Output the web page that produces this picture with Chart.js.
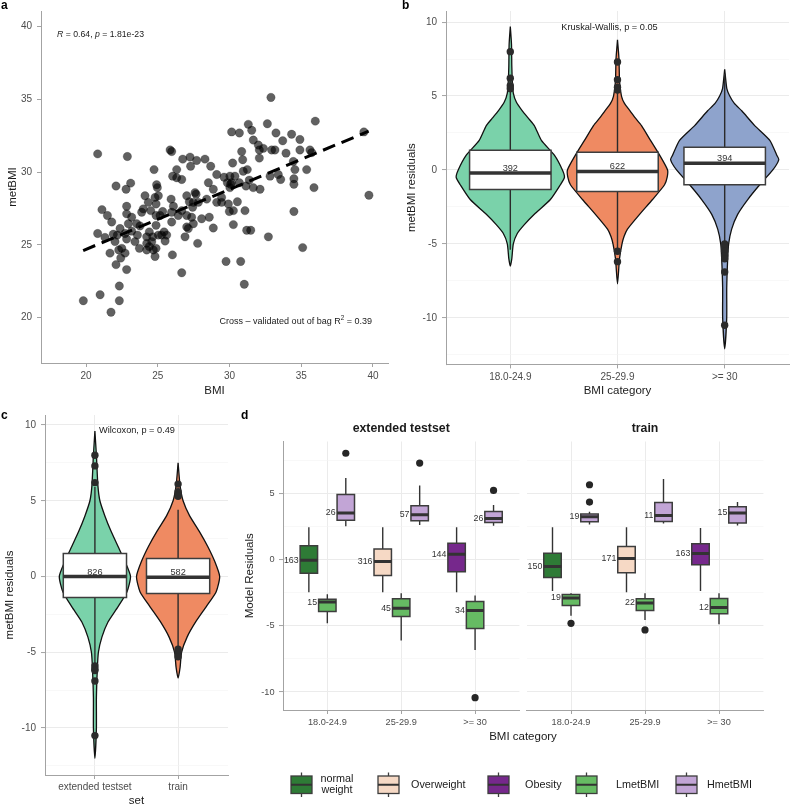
<!DOCTYPE html>
<html><head><meta charset="utf-8">
<script src="https://cdn.jsdelivr.net/npm/chart.js@4.4.1/dist/chart.umd.min.js"></script>
<style>
html,body{margin:0;padding:0;background:#fff;overflow:hidden;width:790px;height:806px;}
canvas{position:absolute;}
</style></head><body>
<canvas id="ca" width="395" height="400" style="left:0;top:0"></canvas>
<canvas id="cb" width="400" height="400" style="left:390px;top:0"></canvas>
<canvas id="cc" width="235" height="410" style="left:0;top:400px"></canvas>
<canvas id="cd1" width="550" height="406" style="left:240px;top:400px"></canvas>
<canvas id="cd2" width="270" height="406" style="left:520px;top:400px"></canvas>
<script>
// ================= DATA =================
// Panel a: scatter BMI vs metBMI
const bmi = [
19.81,20.81,20.81,20.98,21.11,21.32,21.49,21.67,21.74,21.79,
21.90,22.09,22.09,22.02,22.32,22.32,22.37,22.28,22.42,22.72,
22.79,22.88,22.83,22.83,22.83,22.95,22.83,23.11,23.18,22.72,
23.41,23.53,23.58,23.72,23.76,23.99,24.11,24.23,24.23,24.34,
24.41,24.51,24.58,24.69,24.74,24.81,24.88,24.88,24.88,24.88,
24.81,24.92,24.97,25.16,25.27,25.34,25.44,25.51,25.86,25.93,
25.97,25.97,25.97,26.02,26.04,26.32,26.32,26.43,26.67,26.67,
26.74,26.90,27.02,27.13,27.20,27.25,27.29,27.36,27.43,27.48,
27.60,27.71,27.78,28.06,28.29,28.53,28.59,28.69,28.87,28.87,
29.11,29.45,29.62,29.76,29.85,29.92,29.99,30.03,30.08,30.15,
30.22,30.27,30.38,30.55,30.69,30.78,30.85,30.92,30.96,31.03,
31.08,31.15,31.20,31.24,31.31,31.38,31.48,31.55,31.66,32.01,
32.08,32.08,32.13,32.36,32.64,32.83,32.71,32.89,32.94,33.17,
33.24,33.40,33.57,33.71,33.94,34.33,34.45,34.49,34.49,34.49,
34.56,34.91,34.91,35.10,35.38,35.61,35.73,35.89,35.98,39.37,
39.72,22.18,22.49,23.18,23.88,24.41,24.65,25.04,25.62,26.09,
26.67,27.02,27.48,27.83,28.41,29.45,30.03,30.15,30.27,31.66,
30.69,27.02,27.67,29.11,25.04,24.23];
const metBMI = [
21.17,31.26,25.79,21.58,27.43,25.52,27.03,24.44,20.38,26.58,
25.74,29.05,23.65,25.23,22.18,21.17,26.13,24.66,24.10,24.44,
28.83,31.08,27.66,27.14,23.31,26.46,25.41,29.25,25.95,25.79,
25.23,26.46,25.68,24.77,26.31,27.48,28.38,25.56,24.66,27.93,
25.90,27.36,25.23,24.66,30.18,28.27,27.82,27.03,26.35,24.77,
24.21,29.14,28.94,27.03,25.68,27.30,25.90,25.27,31.53,28.15,
26.58,27.25,31.42,24.32,29.73,30.18,29.62,27.03,29.50,23.09,
30.90,25.56,26.24,26.13,27.97,31.04,30.41,26.91,27.59,26.46,
28.60,30.81,25.11,26.80,30.90,29.28,26.91,30.41,26.17,28.83,
27.93,28.27,29.66,23.87,29.28,27.82,27.30,29.73,29.17,32.77,
30.63,26.40,29.73,27.97,32.70,23.87,31.42,30.86,30.07,22.30,
27.36,29.05,26.01,30.18,33.29,29.46,26.01,32.88,32.21,31.87,
31.53,30.97,28.83,31.64,33.33,29.73,25.56,35.14,31.53,31.53,
32.70,29.84,29.50,32.16,31.31,32.61,30.74,27.30,29.17,29.55,
30.18,32.25,31.53,24.82,30.18,31.53,31.35,28.94,33.51,32.77,
28.42,25.68,24.77,26.91,27.25,24.89,25.56,25.68,25.68,27.66,
27.36,27.03,27.93,27.93,28.15,27.93,28.94,29.28,27.36,28.94,
29.28,28.38,28.49,29.84,28.38,25.11];
const fitBMI = [19.8, 39.7];
const fitMet = [24.62, 32.82];
const aTicksX = [20, 25, 30, 35, 40];
const aTicksY = [20, 25, 30, 35, 40];

// Panel b: residuals by BMI category
const bmiCats = ['18.0-24.9', '25-29.9', '>= 30'];
const bColors = ['#7ad2aa', '#ef8a62', '#8ea3cc'];
const bViolinY = [
  [9.7, 8.5, 7, 6, 5.2, 4.6, 4, 3.5, 3, 2, 1, 0, -0.5, -1, -2, -3, -3.7, -4.3, -5, -6, -6.5],
  [8.8, 7.5, 6, 5, 4.5, 4, 3.5, 3, 2, 1, 0, -0.5, -1, -2, -3, -4, -4.5, -5, -6, -7.7],
  [6.8, 5.5, 5, 4.5, 4, 3, 2, 1, 0.7, 0, -1, -2, -3, -4, -5, -6, -8, -10, -12.1]];
const bViolinW = [
  [0, .011, .014, .019, .028, .056, .112, .168, .224, .29, .411, .486, .505, .467, .374, .224, .131, .065, .028, .014, 0],
  [0, .014, .019, .037, .065, .117, .168, .224, .308, .393, .467, .463, .439, .327, .206, .093, .061, .042, .019, 0],
  [0, .02, .047, .09, .159, .280, .421, .486, .505, .449, .327, .215, .121, .065, .037, .028, .019, .019, 0]];
const bQ1 = [-1.33, -1.45, -1.0];
const bMed = [-0.2, -0.1, 0.45];
const bQ3 = [1.33, 1.2, 1.53];
const bLo = [-5.4, -5.4, -4.8];
const bHi = [5.5, 5.3, 6.5];
const bN = [392, 622, 394];
const bOut = [[8.0, 6.2, 5.7, 5.5], [7.3, 6.1, 5.6, 5.4, -5.5, -6.2], [-5.0, -5.2, -5.5, -5.8, -6.0, -6.9, -10.5]];
const resTicks = [10, 7.5, 5, 2.5, 0, -2.5, -5, -7.5, -10, -12.5];

// Panel c: residuals by set
const sets = ['extended testset', 'train'];
const cColors = ['#7ad2aa', '#ef8a62'];
const cViolinY = [
  [9.6, 8, 6, 5, 4, 3, 2, 1, 0, -1, -2, -3, -4, -5, -6, -8, -10, -12],
  [7.5, 6, 5, 4, 3, 2, 1, 0, -1, -2, -3, -4, -5, -6, -6.7]];
const cViolinW = [
  [0, .018, .036, .06, .12, .193, .277, .361, .428, .386, .277, .157, .084, .042, .03, .018, .018, 0],
  [0, .024, .06, .139, .253, .355, .44, .5, .458, .337, .211, .108, .042, .024, 0]];
const cQ1 = [-1.39, -1.12];
const cMed = [0, -0.05];
const cQ3 = [1.52, 1.19];
const cLo = [-5.8, -4.7];
const cHi = [5.9, 4.4];
const cN = [826, 582];
const cOut = [[8.0, 7.3, 6.2, -5.9, -6.1, -6.2, -6.9, -10.5], [6.1, 5.6, 5.4, 5.3, -4.8, -5.0, -5.3]];

// Panel d: model residuals per facet / category / group
const dFacets = ['extended testset', 'train'];
const dGroups = ['normal weight', 'Overweight', 'Obesity', 'LmetBMI', 'HmetBMI'];
const dColors = ['#2e7b36', '#f6d9c5', '#76288c', '#66bb63', '#c2a5d6'];
const dFacet = ['extended testset','extended testset','extended testset','extended testset','extended testset','extended testset','extended testset','extended testset','extended testset',
                'train','train','train','train','train','train','train','train','train'];
const dCat = ['18.0-24.9','18.0-24.9','18.0-24.9','25-29.9','25-29.9','25-29.9','>= 30','>= 30','>= 30',
              '18.0-24.9','18.0-24.9','18.0-24.9','25-29.9','25-29.9','25-29.9','>= 30','>= 30','>= 30'];
const dGroup = ['normal weight','LmetBMI','HmetBMI','Overweight','LmetBMI','HmetBMI','Obesity','LmetBMI','HmetBMI',
                'normal weight','LmetBMI','HmetBMI','Overweight','LmetBMI','HmetBMI','Obesity','LmetBMI','HmetBMI'];
const dLo  = [-2.45,-4.8, 2.53,-2.45,-6.1, 2.63,-2.45,-6.82,2.58, -2.35,-4.24,2.68,-2.45,-4.55,2.75,-2.35,-4.87,2.6];
const dQ1  = [-1.01,-3.91,3.0, -1.19,-4.29,2.95,-0.91,-5.2, 2.83, -1.34,-3.46,2.88,-0.98,-3.84,2.9, -0.38,-4.07,2.78];
const dMed = [-0.03,-3.2, 3.54,-0.13,-3.66,3.41, 0.43,-3.84,3.13, -0.5, -2.88,3.26, 0.1, -3.26,3.36, 0.48,-3.61,3.54];
const dQ3  = [1.06,-2.98, 4.95, 0.81,-2.95,4.09, 1.26,-3.16,3.66,  0.5, -2.63,3.46, 1.01,-2.95,4.34, 1.21,-2.93,4.02];
const dHi  = [2.47,-2.6,  6.19, 2.47,-2.53,5.63, 2.47,-2.7, 4.14,  2.47,-2.53,3.64, 2.47,-2.53,6.11, 2.4, -2.53,4.37];
const dN   = [163, 15, 26, 316, 45, 57, 144, 34, 26, 150, 19, 19, 171, 22, 11, 163, 12, 15];
const dOut = [[],[],[8.06], [],[],[7.32], [],[-10.43],[5.25], [],[-4.8],[4.37,5.68], [],[-5.3],[], [],[],[]];
const dTicks = [7.5, 5, 2.5, 0, -2.5, -5, -7.5, -10];

// ================= STYLE / HELPERS =================
const FONT = "'Liberation Sans', Arial, Helvetica, sans-serif";
const TICKC = '#4d4d4d', AXISC = '#a3a3a3', TITLEC = '#1a1a1a';
const GRIDMAJ = '#ebebeb', GRIDMIN = '#f4f4f4';
Chart.defaults.font.family = FONT;
const isMajor5 = v => Math.abs(v / 5 - Math.round(v / 5)) < 1e-6;

function axis(o) {
  return {
    type: 'linear', position: o.pos, min: o.min, max: o.max,
    afterBuildTicks: s => { s.ticks = o.ticks.map(v => ({ value: v })); },
    afterFit: s => { if (o.pos === 'left') s.width = o.size; else s.height = o.size; },
    ticks: { display: o.showLabels !== false, autoSkip: false, maxRotation: 0, minRotation: 0,
      color: TICKC, font: { size: o.fs || 10, family: FONT }, padding: o.pad, callback: o.label },
    grid: { drawOnChartArea: true, drawTicks: o.drawTicks !== false, tickLength: 4,
      color: o.gridColor, lineWidth: o.gridWidth, tickColor: o.tickColor, tickWidth: 1 },
    border: { display: o.border !== false, color: AXISC, width: 1 },
    title: o.title ? { display: true, text: o.title, color: TITLEC, font: { size: 11.5, family: FONT }, padding: o.titlePad } : { display: false }
  };
}
function makeChart(id, W, area, scales, datasets, plugins) {
  return new Chart(document.getElementById(id), {
    type: 'scatter',
    data: { datasets },
    options: {
      responsive: false, animation: false, events: [],
      layout: { autoPadding: false, padding: { left: area.padL || 0, top: area.t, right: W - area.r, bottom: 0 } },
      plugins: { legend: { display: false }, tooltip: { enabled: false }, title: { display: false } },
      scales
    },
    plugins
  });
}
function seg(x1, y1, x2, y2, color, w, order) {
  return { type: 'line', data: [{ x: x1, y: y1 }, { x: x2, y: y2 }], borderColor: color, borderWidth: w,
    pointRadius: 0, pointHoverRadius: 0, fill: false, tension: 0, order };
}
function rectDs(c, h, q1, q3, fillC, order) {
  return { type: 'line', data: [{ x: c - h, y: q1 }, { x: c + h, y: q1 }, { x: c + h, y: q3 }, { x: c - h, y: q3 }, { x: c - h, y: q1 }],
    fill: 'shape', backgroundColor: fillC, borderColor: '#3d3d3d', borderWidth: 1.5, borderCapStyle: 'square',
    pointRadius: 0, pointHoverRadius: 0, tension: 0, order };
}
function violinDs(c, ys, ws, color) {
  const right = ys.map((y, k) => ({ x: c + ws[k], y }));
  const left = ys.map((y, k) => ({ x: c - ws[k], y })).reverse().slice(1);
  return { type: 'line', data: right.concat(left), fill: 'shape', backgroundColor: color, borderColor: '#111',
    borderWidth: 1.3, pointRadius: 0, pointHoverRadius: 0, tension: 0.2, order: 50 };
}
function text(ctx, s, x, y, o = {}) {
  ctx.save();
  ctx.font = `${o.style || 'normal'} ${o.weight || 'normal'} ${o.size || 10}px ${FONT}`;
  ctx.fillStyle = o.color || '#1a1a1a';
  ctx.textAlign = o.align || 'center';
  ctx.textBaseline = o.base || 'middle';
  ctx.fillText(s, x, y);
  ctx.restore();
}
function rich(ctx, parts, x, y, size, align) {
  ctx.save();
  ctx.textBaseline = 'middle'; ctx.fillStyle = '#1a1a1a'; ctx.textAlign = 'left';
  const fontOf = p => `${p.it ? 'italic ' : ''}${p.sup ? size * 0.7 : size}px ${FONT}`;
  let total = 0;
  parts.forEach(p => { ctx.font = fontOf(p); total += ctx.measureText(p.t).width; });
  let cx = align === 'right' ? x - total : x;
  parts.forEach(p => { ctx.font = fontOf(p); ctx.fillText(p.t, cx, p.sup ? y - size * 0.42 : y); cx += ctx.measureText(p.t).width; });
  ctx.restore();
}
const gridMajMin = c => (isMajor5(c.tick.value) ? GRIDMAJ : GRIDMIN);
const gridWMajMin = c => (isMajor5(c.tick.value) ? 1.1 : 0.6);
const tickMajMin = c => (isMajor5(c.tick.value) ? AXISC : 'rgba(0,0,0,0)');
const labMaj = v => (isMajor5(v) ? String(v) : '');

// ================= PANEL A =================
makeChart('ca', 395, { l: 41, t: 5, r: 388, b: 363 }, {
  x: axis({ pos: 'bottom', min: 16.86, max: 41.05, ticks: aTicksX, size: 37, pad: 3, label: v => String(v),
    gridColor: 'rgba(0,0,0,0)', gridWidth: 1, tickColor: AXISC, title: 'BMI', titlePad: { top: 0, bottom: 2.6 } }),
  y: axis({ pos: 'left', min: 16.89, max: 41.08, ticks: aTicksY, size: 41, pad: 5, label: v => String(v),
    gridColor: 'rgba(0,0,0,0)', gridWidth: 1, tickColor: AXISC, title: 'metBMI', titlePad: { top: 6, bottom: 0 } })
}, [
  { type: 'line', data: fitBMI.map((x, i) => ({ x, y: fitMet[i] })), borderColor: '#000', borderWidth: 3,
    borderDash: [13, 7], pointRadius: 0, fill: false, tension: 0, order: 1 },
  { type: 'scatter', data: bmi.map((x, i) => ({ x, y: metBMI[i] })), pointRadius: 4.2,
    backgroundColor: 'rgba(0,0,0,0.62)', borderColor: 'rgba(0,0,0,0.35)', borderWidth: 0.6, order: 2 }
], [{
  id: 'annA', afterDraw(chart) {
    const { ctx, scales: { x, y } } = chart;
    text(ctx, 'a', 1, 6, { size: 12, weight: 'bold', align: 'left', color: '#000' });
    rich(ctx, [{ t: 'R', it: 1 }, { t: ' = 0.64, ' }, { t: 'p', it: 1 }, { t: ' = 1.81e-23' }],
      x.getPixelForValue(17.98), y.getPixelForValue(39.46), 8.7, 'left');
    rich(ctx, [{ t: 'Cross \u2013 validated out of bag R' }, { t: '2', sup: 1 }, { t: ' = 0.39' }],
      x.getPixelForValue(39.93), y.getPixelForValue(19.73), 9.0, 'right');
  }
}]);

// ================= VIOLIN + BOX BUILDER =================
function violinBox(cats, vy, vw, q1, med, q3, lo, hi, outs, colors) {
  const ds = [];
  const h = 0.38;
  cats.forEach((_, i) => {
    const c = i + 1;
    ds.push(violinDs(c, vy[i], vw[i], colors[i]));
    ds.push(seg(c, q3[i], c, hi[i], '#2b2b2b', 1.4, 40));
    ds.push(seg(c, lo[i], c, q1[i], '#2b2b2b', 1.4, 40));
    ds.push(rectDs(c, h, q1[i], q3[i], '#ffffff', 30));
    ds.push(seg(c - h, med[i], c + h, med[i], '#333', 3.5, 20));
    ds.push({ type: 'scatter', data: outs[i].map(y => ({ x: c, y })), pointRadius: 3.7,
      backgroundColor: '#2b2b2b', borderWidth: 0, order: 10 });
  });
  return ds;
}
function countPlugin(ns, meds, letter, lx, ly, stat) {
  return {
    id: 'ann' + letter, afterDraw(chart) {
      const { ctx, scales: { x, y } } = chart;
      ns.forEach((n, i) => text(ctx, String(n), x.getPixelForValue(i + 1), y.getPixelForValue(meds[i]) - 2,
        { size: 9.2, base: 'alphabetic', color: '#333' }));
      text(ctx, letter, lx, ly, { size: 12, weight: 'bold', align: 'left', color: '#000' });
      text(ctx, stat.t, x.getPixelForValue(stat.x), y.getPixelForValue(stat.y), { size: 9.2 });
    }
  };
}
function catAxis(cats, size, pad, title, titlePad, fs) {
  return axis({ pos: 'bottom', min: 0.4, max: cats.length + 0.6, ticks: cats.map((_, i) => i + 1), size, pad, fs,
    label: v => cats[Math.round(v) - 1], gridColor: GRIDMAJ, gridWidth: 1, tickColor: AXISC, title, titlePad });
}

// ================= PANEL B =================
makeChart('cb', 400, { l: 56, t: 4.7, r: 399, b: 364.4 }, {
  x: catAxis(bmiCats, 35.6, 2.5, 'BMI category', { top: 0, bottom: 2.1 }),
  y: axis({ pos: 'left', min: -13.15, max: 10.75, ticks: resTicks, size: 56, pad: 5, label: labMaj,
    gridColor: gridMajMin, gridWidth: gridWMajMin, tickColor: tickMajMin, title: 'metBMI residuals', titlePad: { top: 15, bottom: 0 } })
}, violinBox(bmiCats, bViolinY, bViolinW, bQ1, bMed, bQ3, bLo, bHi, bOut, bColors),
  [countPlugin(bN, bMed, 'b', 12, 6, { t: 'Kruskal-Wallis, p = 0.05', x: 1.925, y: 9.67 })]);

// ================= PANEL C =================
makeChart('cc', 235, { l: 45, t: 15, r: 228, b: 375 }, {
  x: catAxis(sets, 35, 2, 'set', { top: 0, bottom: 2.1 }),
  y: axis({ pos: 'left', min: -13.1, max: 10.66, ticks: resTicks, size: 45, pad: 5, label: labMaj,
    gridColor: gridMajMin, gridWidth: gridWMajMin, tickColor: tickMajMin, title: 'metBMI residuals', titlePad: { top: 3, bottom: 0 } })
}, violinBox(sets, cViolinY, cViolinW, cQ1, cMed, cQ3, cLo, cHi, cOut, cColors),
  [countPlugin(cN, cMed, 'c', 1, 16, { t: 'Wilcoxon, p = 0.49', x: 1.506, y: 9.67 })]);

// ================= PANEL D =================
const dodge = { 'normal weight': -0.25, 'Overweight': -0.25, 'Obesity': -0.25, 'LmetBMI': 0, 'HmetBMI': 0.25 };
const BH = 0.118;
function facetDatasets(f) {
  const ds = [];
  dFacet.forEach((ff, k) => {
    if (ff !== f) return;
    const c = bmiCats.indexOf(dCat[k]) + 1 + dodge[dGroup[k]];
    const col = dColors[dGroups.indexOf(dGroup[k])];
    ds.push(seg(c, dQ3[k], c, dHi[k], '#333', 1.4, 40));
    ds.push(seg(c, dLo[k], c, dQ1[k], '#333', 1.4, 40));
    ds.push(rectDs(c, BH, dQ1[k], dQ3[k], col, 30));
    ds.push(seg(c - BH, dMed[k], c + BH, dMed[k], '#333', 3, 20));
    ds.push({ type: 'scatter', data: dOut[k].map(y => ({ x: c, y })), pointRadius: 3.6,
      backgroundColor: '#262626', borderWidth: 0, order: 10 });
  });
  return ds;
}
function facetPlugin(f, extra) {
  return {
    id: 'facet' + f.length, afterDraw(chart) {
      const { ctx, chartArea: a, scales: { x, y } } = chart;
      text(ctx, f, (a.left + a.right) / 2, a.top - 12.5, { size: 12.3, weight: 'bold' });
      dFacet.forEach((ff, k) => {
        if (ff !== f) return;
        const c = bmiCats.indexOf(dCat[k]) + 1 + dodge[dGroup[k]];
        text(ctx, String(dN[k]), x.getPixelForValue(c - BH) - 1.5, y.getPixelForValue(dMed[k]),
          { size: 8.8, align: 'right', color: '#333' });
      });
      if (extra) extra(ctx, chart);
    }
  };
}
function dLegend(ctx) {
  text(ctx, 'd', 1, 16, { size: 12, weight: 'bold', align: 'left', color: '#000' });
  text(ctx, 'BMI category', 283, 337, { size: 11.5 });
  const keyX = [51, 138, 248, 336, 436];
  const txtX = [97, 171, 285, 376, 467];
  dGroups.forEach((g, i) => {
    const x0 = keyX[i], w = 21, cx = x0 + w / 2;
    ctx.save();
    ctx.strokeStyle = '#3d3d3d'; ctx.lineWidth = 1.3;
    ctx.beginPath(); ctx.moveTo(cx, 372.5); ctx.lineTo(cx, 376); ctx.moveTo(cx, 393.5); ctx.lineTo(cx, 397); ctx.stroke();
    ctx.fillStyle = dColors[i]; ctx.fillRect(x0, 376, w, 17.5);
    ctx.strokeRect(x0, 376, w, 17.5);
    ctx.lineWidth = 2; ctx.strokeStyle = '#333';
    ctx.beginPath(); ctx.moveTo(x0, 384.75); ctx.lineTo(x0 + w, 384.75); ctx.stroke();
    ctx.restore();
    if (i === 0) {
      const parts = g.split(' ');
      text(ctx, parts[0], txtX[i], 379, { size: 10.8, color: '#1a1a1a' });
      text(ctx, parts[1], txtX[i], 390.5, { size: 10.8, color: '#1a1a1a' });
    } else {
      text(ctx, g, txtX[i], 385, { size: 10.8, align: 'left', color: '#1a1a1a' });
    }
  });
}
const dYmin = -11.36, dYmax = 8.95;
makeChart('cd1', 550, { l: 43, t: 41.5, r: 279.4, b: 310 }, {
  x: catAxis(bmiCats, 96, 2.5, null, null, 9.2),
  y: axis({ pos: 'left', min: dYmin, max: dYmax, ticks: dTicks, size: 43, pad: 4.5, fs: 9.2, label: labMaj,
    gridColor: gridMajMin, gridWidth: gridWMajMin, tickColor: tickMajMin, title: 'Model Residuals', titlePad: { top: 3, bottom: 0 } })
}, facetDatasets('extended testset'), [facetPlugin('extended testset', dLegend)]);
makeChart('cd2', 270, { l: 0, padL: 6.6, t: 41.5, r: 243.4, b: 310 }, {
  x: catAxis(bmiCats, 96, 2.5, null, null, 9.2),
  y: axis({ pos: 'left', min: dYmin, max: dYmax, ticks: dTicks, size: 0, pad: 0, showLabels: false, drawTicks: false,
    border: false, label: labMaj, gridColor: gridMajMin, gridWidth: gridWMajMin, tickColor: 'rgba(0,0,0,0)' })
}, facetDatasets('train'), [facetPlugin('train', null)]);
</script>
</body></html>
